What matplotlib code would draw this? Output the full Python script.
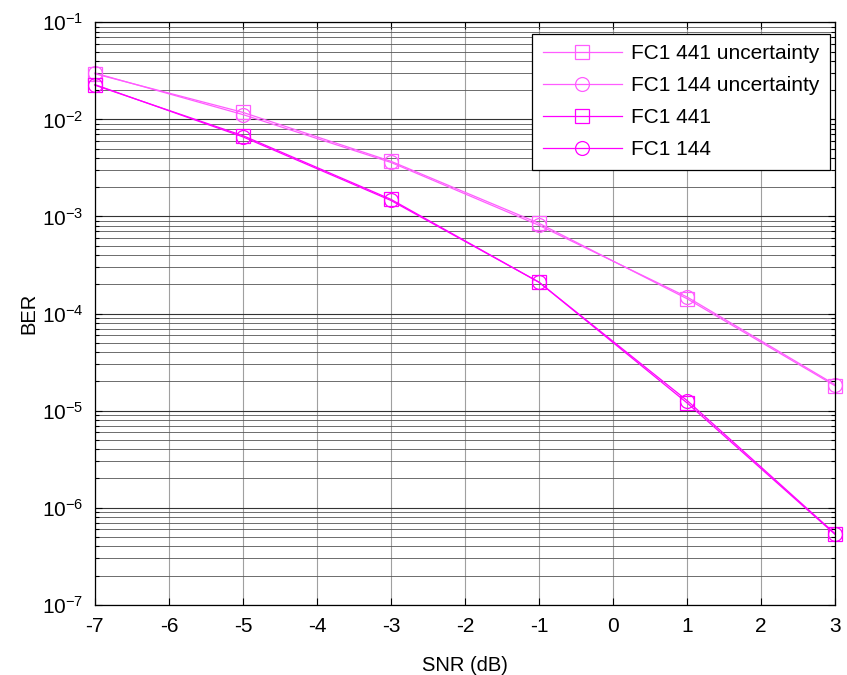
import matplotlib

matplotlib.use("Agg")
import matplotlib.pyplot as plt
from matplotlib.ticker import LogLocator, NullFormatter, FixedLocator

plt.rcParams["font.family"] = ["Liberation Sans", "DejaVu Sans"]
plt.rcParams["axes.unicode_minus"] = False
plt.rcParams["mathtext.default"] = "regular"

# SNR points (dB) and BER curves
snr = [-7, -5, -3, -1, 1, 3]
ber_441_unc = [0.0295, 0.0118, 0.00370, 0.00085, 0.000142, 1.80e-5]
ber_144_unc = [0.0300, 0.0112, 0.00360, 0.00081, 0.000148, 1.85e-5]
ber_441 = [0.0225, 0.0068, 0.00150, 0.00021, 1.20e-5, 5.3e-7]
ber_144 = [0.0228, 0.0066, 0.00146, 0.00021, 1.27e-5, 5.4e-7]

labels = ["FC1 441 uncertainty", "FC1 144 uncertainty", "FC1 441", "FC1 144"]
xticks = list(range(-7, 4))
yticks = [1e-7, 1e-6, 1e-5, 1e-4, 1e-3, 1e-2, 1e-1]

fig = plt.figure(figsize=(8.47, 6.75), dpi=100)
ax = fig.add_axes([0.112, 0.104, 0.874, 0.863])

unc_color = "#ff5cff"
main_color = "#ff00ff"
style = dict(lw=0.9, ms=10, mfc="none", mew=0.9, clip_on=False)
ax.semilogy(snr, ber_441_unc, marker="s", color=unc_color, label=labels[0], **style)
ax.semilogy(snr, ber_144_unc, marker="o", color=unc_color, label=labels[1], **style)
ax.semilogy(snr, ber_441, marker="s", color=main_color, label=labels[2], **style)
ax.semilogy(snr, ber_144, marker="o", color=main_color, label=labels[3], **style)

ax.set_xlim(-7, 3)
ax.set_ylim(1e-7, 1e-1)
ax.xaxis.set_major_locator(FixedLocator(xticks))
ax.yaxis.set_major_locator(FixedLocator(yticks))
ax.yaxis.set_minor_locator(LogLocator(base=10, subs=range(2, 10), numticks=100))
ax.yaxis.set_minor_formatter(NullFormatter())

ax.grid(True, which="major", axis="x", color="#a0a0a0", lw=0.8)
ax.grid(True, which="major", axis="y", color="#333333", lw=0.8)
ax.grid(True, which="minor", axis="y", color="#555555", lw=0.6)
ax.set_axisbelow(True)

ax.tick_params(which="both", direction="in", top=True, right=True,
               labelsize=15, width=0.8)
ax.tick_params(which="major", length=5)
ax.tick_params(which="minor", length=3)
ax.tick_params(axis="x", pad=9)
ax.tick_params(axis="y", pad=8)
for sp in ax.spines.values():
    sp.set_linewidth(0.9)

ax.set_xlabel("SNR (dB)", fontsize=14.5, labelpad=14)
ax.set_ylabel("BER", fontsize=14.5, labelpad=3)

leg = ax.legend(loc="upper right", bbox_to_anchor=(830 / 847, 1 - 34 / 675),
                bbox_transform=fig.transFigure, borderaxespad=0,
                fontsize=15, fancybox=False, framealpha=1,
                edgecolor="black", handlelength=3.8, handletextpad=0.45,
                labelspacing=0.62, borderpad=0.5)
leg.get_frame().set_linewidth(0.9)

fig.savefig("out.png", dpi=100)
